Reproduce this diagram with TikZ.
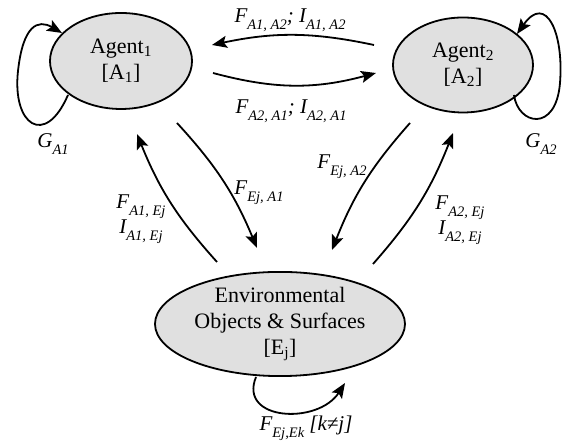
\documentclass[tikz,border=0pt]{standalone}
\usepackage{fontspec}
\setmainfont{Liberation Serif}
\usetikzlibrary{shapes.geometric,arrows.meta,calc}
\newcommand{\isub}[2]{#1\raisebox{-0.33em}{\fontsize{14.5}{15}\selectfont #2}}
\begin{document}
\begin{tikzpicture}[x=1pt,y=1pt,
  state/.style={ellipse, draw, line width=1.8pt, fill=black!12, inner sep=0pt,
    align=center, font=\fontsize{22}{26}\selectfont},
  conn/.style={line width=1.8pt, -{Stealth[length=15pt,width=12pt,inset=3pt]}},
  lab/.style={font=\fontsize{21}{23}\selectfont\itshape, align=center, inner sep=0pt}]
\useasboundingbox (0,0) rectangle (563,443);
\node[state, minimum width=142pt, minimum height=96pt] (a1) at (121,382)
  {Agent\textsubscript{1}\\{[A\textsubscript{1}]}};
\node[state, minimum width=140pt, minimum height=95pt] (a2) at (463,378)
  {Agent\textsubscript{2}\\{[A\textsubscript{2}]}};
\node[state, minimum width=250pt, minimum height=102pt] (env) at (280,119)
  {Environmental\\Objects \& Surfaces\\{[E\textsubscript{j}]}};
% agent to agent
\draw[conn] ($(a2.center)+(-89,20)$) to[bend right=12] ($(a1.center)+(91,16)$);
\draw[conn] ($(a1.center)+(92,-12)$) to[bend right=15] ($(a2.center)+(-87,-8)$);
% agents and environment
\draw[conn] ($(a1.center)+(56,-62)$) to[bend left=10] ($(env.center)+(-23,76)$);
\draw[conn] ($(env.center)+(-63,62)$) to[bend left=10] ($(a1.center)+(16,-73)$);
\draw[conn] ($(a2.center)+(-53,-58)$) to[bend right=10] ($(env.center)+(52,74)$);
\draw[conn] ($(env.center)+(93,60)$) to[bend right=10] ($(a2.center)+(-10,-68)$);
% self loops
\draw[conn] ($(a1.center)+(-53,-34)$) .. controls (45,295) and (12,318) .. (18,372)
  .. controls (23,418) and (38,424) .. ($(a1.center)+(-59,28)$);
\draw[conn] ($(a2.center)+(51,-30)$) .. controls (518,318) and (556,310) .. (560,360)
  .. controls (564,410) and (546,450) .. ($(a2.center)+(54,31)$);
\draw[conn] ($(env.center)+(-24,-53)$) .. controls (238,22) and (318,18) .. ($(env.center)+(65,-59)$);
% labels
\node[lab] (l1) at (290,423) {\isub{F}{A1, A2}; \isub{I}{A1, A2}};
\node[lab] (l2) at (291,332) {\isub{F}{A2, A1}; \isub{I}{A2, A1}};
\node[lab] (g1) at (53,299) {\isub{G}{A1}};
\node[lab] (g2) at (541,299) {\isub{G}{A2}};
\node[lab] (l3) at (259,250) {\isub{F}{Ej, A1}};
\node[lab] (l4) at (141,224) {\isub{F}{A1, Ej}\\\isub{I}{A1, Ej}};
\node[lab] (l5) at (342,276) {\isub{F}{Ej, A2}};
\node[lab] (l6) at (460,223) {\isub{F}{A2, Ej}\\\isub{I}{A2, Ej}};
\node[lab] (l7) at (306,15) {\isub{F}{Ej,Ek} [k≠j]};
\end{tikzpicture}
\end{document}
